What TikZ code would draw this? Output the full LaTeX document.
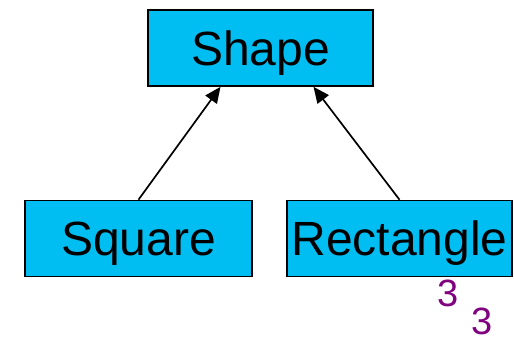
\documentclass[tikz,border=0pt]{standalone}
\usepackage{fontspec}
\setmainfont{Liberation Sans}
\usepackage{tikz}
\usetikzlibrary{arrows.meta}
\definecolor{boxfill}{RGB}{0,190,242}
\definecolor{mult}{RGB}{128,0,128}

\begin{document}
\begin{tikzpicture}[x=1pt,y=-1pt,
  cls/.style={draw=black,line width=1.6pt,fill=boxfill,inner sep=0pt,
    minimum height=76pt,text depth=0pt,font=\fontsize{48}{56}\selectfont},
  inh/.style={-{Triangle[length=16pt,width=14pt]},line width=1.7pt},
  num/.style={mult,inner sep=0pt,font=\fontsize{38}{44}\selectfont}]
  \useasboundingbox (0,0) rectangle (514,339);
  \node[cls,minimum width=225pt] (shape) at (260.5,48) {Shape};
  \node[cls,minimum width=227pt] (square) at (138.5,238.5) {Square};
  \node[cls,minimum width=225pt] (rect) at (399.5,238.5) {Rectangle};
  \draw[inh] (square.north) -- ([xshift=-40pt]shape.south);
  \draw[inh] (rect.north) -- ([xshift=53pt]shape.south);
  \node[num] (m1) at (448,293) {3};
  \node[num] (m2) at (482,321) {3};
\end{tikzpicture}
\end{document}
